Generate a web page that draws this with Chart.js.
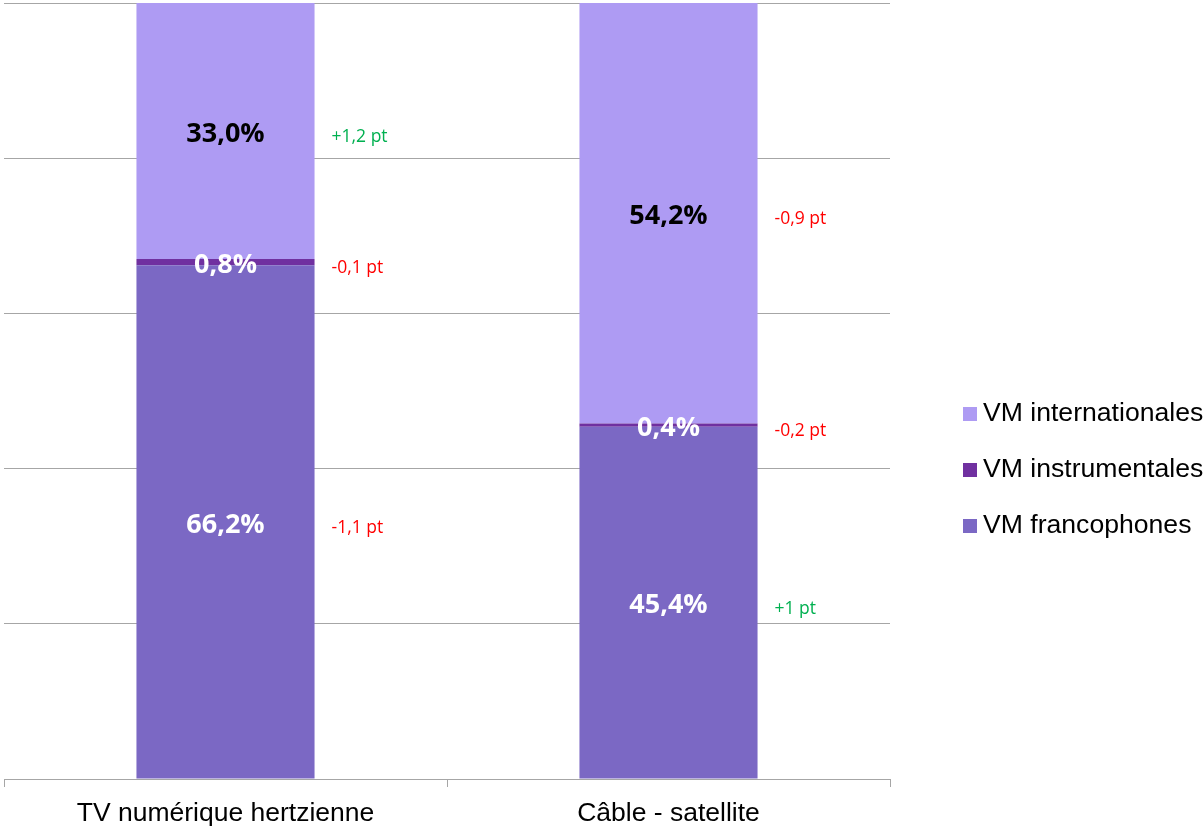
<!DOCTYPE html>
<html>
<head>
<meta charset="utf-8">
<script src="https://cdn.jsdelivr.net/npm/chart.js@4/dist/chart.umd.min.js"></script>
<style>
  html, body { margin: 0; padding: 0; background: #ffffff; }
  #wrap { width: 1204px; height: 826px; position: relative; }
</style>
</head>
<body>
<div id="wrap"><canvas id="c" width="1204" height="826"></canvas></div>
<script>
const categories = ['TV numérique hertzienne', 'Câble - satellite'];
const seriesNames = ['VM francophones', 'VM instrumentales', 'VM internationales'];
const francophones = [66.2, 45.4];
const instrumentales = [0.8, 0.4];
const internationales = [33.0, 54.2];
const changesFrancophones = ['-1,1 pt', '+1 pt'];
const changesInstrumentales = ['-0,1 pt', '-0,2 pt'];
const changesInternationales = ['+1,2 pt', '-0,9 pt'];
const yTicks = [0, 20, 40, 60, 80, 100];

const colors = ['#7b68c4', '#7030a0', '#ae9bf3'];
const labelColors = ['#ffffff', '#ffffff', '#000000'];
const seriesValues = [francophones, instrumentales, internationales];
const seriesChanges = [changesFrancophones, changesInstrumentales, changesInternationales];

function fmtPct(v) { return v.toFixed(1).replace('.', ',') + '%'; }

const labelPlugin = {
  id: 'segLabels',
  afterDatasetsDraw(chart) {
    const ctx = chart.ctx;
    ctx.save();
    chart.data.datasets.forEach((ds, di) => {
      const meta = chart.getDatasetMeta(di);
      meta.data.forEach((bar, i) => {
        const cy = (bar.y + bar.base) / 2 + 3;
        ctx.font = 'bold 27px "Open Sans", sans-serif';
        ctx.fillStyle = labelColors[di];
        ctx.textAlign = 'center';
        ctx.textBaseline = 'middle';
        ctx.fillText(fmtPct(ds.data[i]), bar.x, cy);
        const ch = seriesChanges[di][i];
        ctx.font = '17.5px "Open Sans", sans-serif';
        ctx.fillStyle = ch.charAt(0) === '+' ? '#00b050' : '#ff0000';
        ctx.textAlign = 'left';
        ctx.fillText(ch, bar.x + bar.width / 2 + 17, cy + 3);
      });
    });
    ctx.restore();
  }
};

const legendPlugin = {
  id: 'customLegend',
  afterDraw(chart) {
    const ctx = chart.ctx;
    ctx.save();
    const ds = chart.data.datasets.slice().reverse();
    const x0 = 963, y0 = 414, step = 56;
    ds.forEach((d, k) => {
      const y = y0 + k * step;
      ctx.fillStyle = d.backgroundColor;
      ctx.fillRect(x0, y - 7, 14, 14);
      ctx.fillStyle = '#000000';
      ctx.font = '26.6px "Liberation Sans", Arial, sans-serif';
      ctx.textAlign = 'left';
      ctx.textBaseline = 'middle';
      ctx.fillText(d.label, x0 + 20, y);
    });
    ctx.restore();
  }
};

new Chart(document.getElementById('c'), {
  type: 'bar',
  data: {
    labels: categories,
    datasets: seriesNames.map((name, i) => ({
      label: name,
      data: seriesValues[i],
      backgroundColor: colors[i],
      borderWidth: 0,
      categoryPercentage: 1.0,
      barPercentage: 0.402
    }))
  },
  options: {
    responsive: false,
    animation: false,
    devicePixelRatio: 1,
    layout: { padding: { left: 4, right: 314, top: 3, bottom: 0 } },
    plugins: { legend: { display: false }, tooltip: { enabled: false } },
    scales: {
      x: {
        stacked: true,
        afterFit(axis) { axis.height = 47; },
        grid: { display: true, drawOnChartArea: false, drawTicks: true, tickLength: 8, color: '#a6a6a6', offset: true },
        border: { display: true, color: '#a6a6a6' },
        ticks: { color: '#000000', font: { family: '"Liberation Sans", Arial, sans-serif', size: 26.5 }, padding: 11 }
      },
      y: {
        stacked: true,
        min: 0,
        max: 100,
        afterBuildTicks(axis) { axis.ticks = yTicks.map(v => ({ value: v })); },
        grid: { color: '#a6a6a6', drawTicks: false },
        border: { display: false },
        ticks: { display: false }
      }
    }
  },
  plugins: [labelPlugin, legendPlugin]
});
</script>
</body>
</html>
